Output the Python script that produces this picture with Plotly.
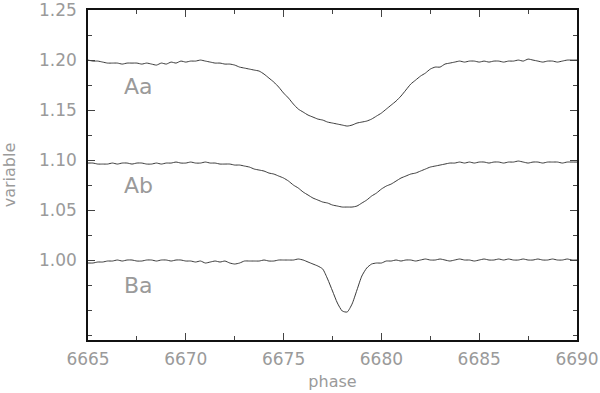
import plotly.graph_objects as go

# wavelength grid: 6665.00 .. 6690.00 in steps of 0.25 (set through x0/dx)
start_wl = 6665.0
step_wl = 0.25

aa_flux = [
    1.200, 1.199, 1.199, 1.198, 1.197, 1.197, 1.197, 1.196, 1.197, 1.197,
    1.197, 1.196, 1.197, 1.196, 1.195, 1.197, 1.196, 1.198, 1.197, 1.199,
    1.198, 1.199, 1.199, 1.200, 1.199, 1.198, 1.197, 1.197, 1.196, 1.196,
    1.195, 1.193, 1.192, 1.191, 1.190, 1.189, 1.186, 1.182, 1.178, 1.173,
    1.167, 1.162, 1.156, 1.151, 1.148, 1.145, 1.143, 1.141, 1.140, 1.138,
    1.137, 1.136, 1.135, 1.134, 1.135, 1.137, 1.138, 1.139, 1.141, 1.144,
    1.147, 1.151, 1.155, 1.159, 1.164, 1.170, 1.176, 1.180, 1.184, 1.187,
    1.191, 1.193, 1.193, 1.196, 1.197, 1.198, 1.199, 1.198, 1.199, 1.199,
    1.198, 1.199, 1.198, 1.199, 1.199, 1.198, 1.199, 1.199, 1.200, 1.199,
    1.201, 1.200, 1.199, 1.198, 1.199, 1.199, 1.198, 1.199, 1.200, 1.200,
    1.200,
]

ab_flux = [
    1.097, 1.097, 1.096, 1.096, 1.096, 1.097, 1.096, 1.097, 1.097, 1.096,
    1.097, 1.097, 1.096, 1.096, 1.097, 1.096, 1.097, 1.097, 1.098, 1.097,
    1.097, 1.098, 1.097, 1.097, 1.098, 1.097, 1.097, 1.096, 1.096, 1.096,
    1.095, 1.095, 1.094, 1.093, 1.091, 1.090, 1.089, 1.087, 1.086, 1.084,
    1.082, 1.079, 1.075, 1.072, 1.068, 1.065, 1.062, 1.060, 1.058, 1.057,
    1.055, 1.054, 1.053, 1.053, 1.053, 1.054, 1.057, 1.060, 1.064, 1.067,
    1.071, 1.074, 1.076, 1.079, 1.082, 1.084, 1.086, 1.087, 1.089, 1.091,
    1.093, 1.094, 1.095, 1.096, 1.097, 1.097, 1.098, 1.097, 1.098, 1.097,
    1.098, 1.098, 1.097, 1.098, 1.098, 1.097, 1.098, 1.098, 1.099, 1.098,
    1.097, 1.098, 1.098, 1.097, 1.098, 1.098, 1.098, 1.097, 1.098, 1.098,
    1.098,
]

ba_flux = [
    0.997, 0.997, 0.998, 0.998, 0.999, 0.999, 1.000, 0.999, 1.000, 1.000,
    0.999, 0.999, 1.000, 1.000, 0.999, 1.000, 1.000, 0.999, 1.000, 1.000,
    0.999, 0.999, 0.998, 0.999, 0.997, 0.998, 0.999, 0.998, 0.999, 0.997,
    0.996, 0.997, 0.999, 0.999, 0.999, 0.999, 1.000, 0.999, 0.999, 1.000,
    1.000, 1.000, 1.000, 1.001, 1.000, 0.998, 0.996, 0.994, 0.991, 0.981,
    0.969, 0.957, 0.949, 0.948, 0.956, 0.970, 0.984, 0.992, 0.996, 0.997,
    0.997, 0.999, 0.999, 1.000, 0.999, 1.000, 1.000, 0.999, 1.000, 1.001,
    1.000, 1.000, 1.001, 1.000, 0.999, 1.000, 1.001, 1.000, 1.000, 0.999,
    1.000, 1.001, 1.000, 1.000, 1.001, 1.000, 1.001, 1.000, 1.000, 1.001,
    1.000, 1.000, 1.001, 1.000, 1.000, 1.001, 1.000, 1.000, 1.001, 1.000,
    1.000,
]

labels = ["Aa", "Ab", "Ba"]
label_x = [6667.6, 6667.6, 6667.6]
label_y = [1.174, 1.075, 0.975]

x_ticks = [6665, 6670, 6675, 6680, 6685, 6690]
y_ticks = [1.00, 1.05, 1.10, 1.15, 1.20, 1.25]
y_tick_text = ["1.00", "1.05", "1.10", "1.15", "1.20", "1.25"]

FONT = "DejaVu Sans"
GREY = "#9a9a9a"

fig = go.Figure()
for series in (aa_flux, ab_flux, ba_flux):
    fig.add_trace(go.Scatter(y=series, x0=start_wl, dx=step_wl, mode="lines",
                             line=dict(color="#3a3a3a", width=1, shape="spline", smoothing=0.6),
                             showlegend=False, hoverinfo="skip"))

for txt, lx, ly in zip(labels, label_x, label_y):
    fig.add_annotation(x=lx, y=ly, text=txt, showarrow=False,
                       font=dict(family=FONT, size=22, color=GREY))

axis_common = dict(showline=True, mirror="allticks", linecolor="#111111", linewidth=1.5,
                   ticks="inside", tickcolor="#444444", ticklen=7, tickwidth=1,
                   showgrid=False, zeroline=False, automargin=False,
                   tickfont=dict(family=FONT, size=17, color=GREY))

fig.update_xaxes(range=[6665, 6690.0001], tickvals=x_ticks, ticklabelstandoff=3,
                 minor=dict(dtick=2.5, tick0=6665, ticks="inside", ticklen=4,
                            tickcolor="#444444", showgrid=False),
                 title=dict(text="phase", font=dict(family=FONT, size=16, color=GREY), standoff=8),
                 **axis_common)
fig.update_yaxes(range=[0.92, 1.2501], tickvals=y_ticks, ticktext=y_tick_text, ticklabelstandoff=6,
                 minor=dict(dtick=0.025, tick0=0.975, ticks="inside", ticklen=4,
                            tickcolor="#444444", showgrid=False),
                 title=dict(text="variable", font=dict(family=FONT, size=16, color=GREY), standoff=19),
                 **axis_common)

fig.update_layout(width=600, height=393, margin=dict(l=88, r=23, t=10, b=53),
                  plot_bgcolor="white", paper_bgcolor="white")

fig.write_html("out.html", config={"displayModeBar": False},
               post_script="document.body.style.margin='0';")
